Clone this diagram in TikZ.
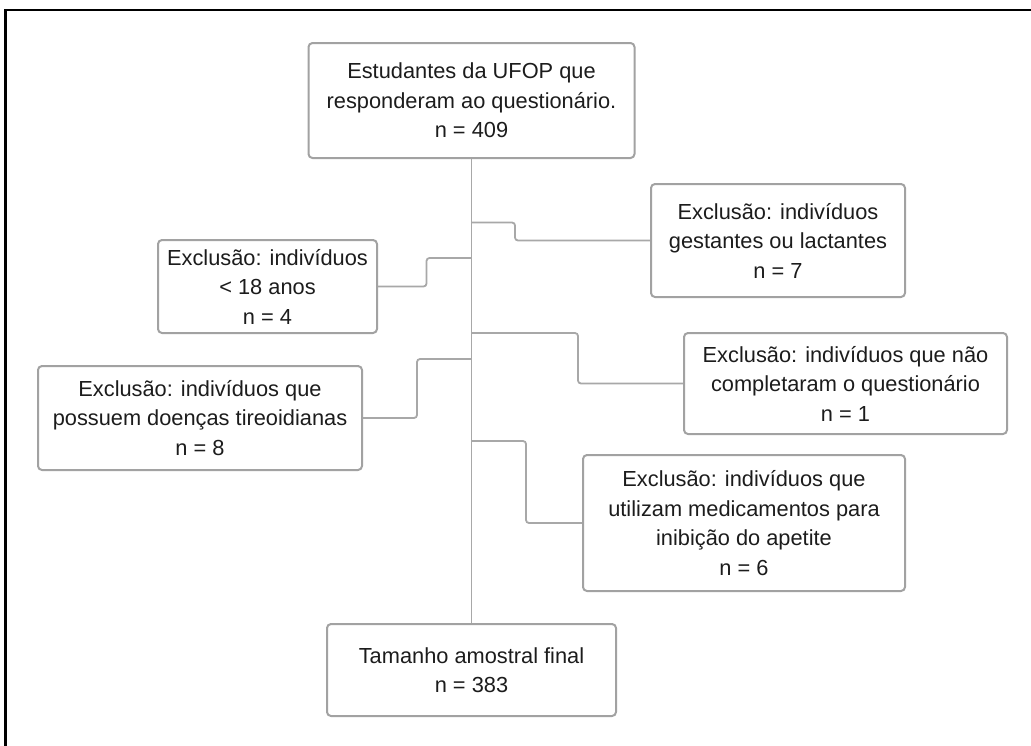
\documentclass[tikz,border=0pt]{standalone}
\usepackage{fontspec}
\setmainfont{Liberation Sans}
\begin{document}
\definecolor{boxgray}{HTML}{A2A2A2}
\definecolor{linegray}{HTML}{A8A8A8}
\definecolor{txt}{HTML}{1C1C1C}
\begin{tikzpicture}[x=1pt,y=-1pt,
  box/.style={draw=boxgray, line width=2pt, rounded corners=4pt, rectangle,
    inner sep=0pt, align=center, text=txt,
    font=\fontsize{21.8}{29.5}\selectfont},
  conn/.style={draw=linegray, line width=1.8pt, rounded corners=3pt},
  frame/.style={draw=black, line width=2.6pt}]
\useasboundingbox (0,0) rectangle (1031,745);
% frame (only top and left visible)
\coordinate (fb) at (5.5,760);
\coordinate (ftl) at (5.5,9.8);
\coordinate (fr) at (1040,9.8);
\draw[frame] (fb) -- (ftl) -- (fr);

\node[box, minimum width=326pt, minimum height=115pt] (top) at (471.5,100.5)
  {Estudantes da UFOP que\\responderam ao questionário.\\n = 409};
\node[box, minimum width=254pt, minimum height=113pt] (g) at (778,240.5)
  {Exclusão: indivíduos\\gestantes ou lactantes\\n = 7};
\node[box, minimum width=219pt, minimum height=93pt] (a) at (267.5,286.5)
  {Exclusão: indivíduos\\< 18 anos\\n = 4};
\node[box, minimum width=323pt, minimum height=101pt] (c) at (845.5,383.5)
  {Exclusão: indivíduos que não\\completaram o questionário\\n = 1};
\node[box, minimum width=324pt, minimum height=104pt] (d) at (200,418)
  {Exclusão: indivíduos que\\possuem doenças tireoidianas\\n = 8};
\node[box, minimum width=322pt, minimum height=136pt] (e) at (744,523)
  {Exclusão: indivíduos que\\utilizam medicamentos para\\inibição do apetite\\n = 6};
\node[box, minimum width=289pt, minimum height=92pt] (b) at (471.5,670)
  {Tamanho amostral final\\n = 383};

\draw[conn] (top.south) -- (b.north);
\coordinate (j1) at (471.5,222.5);
\coordinate (j2) at (471.5,258);
\coordinate (j3) at (471.5,333);
\coordinate (j4) at (471.5,359);
\coordinate (j5) at (471.5,441);
\draw[conn] (j1) -- ++(43.5,0) |- (g.west);
\draw[conn] (j2) -- ++(-45,0) |- (a.east);
\draw[conn] (j3) -- ++(106.5,0) |- (c.west);
\draw[conn] (j4) -- ++(-54.5,0) |- (d.east);
\draw[conn] (j5) -- ++(54.5,0) |- (e.west);
\end{tikzpicture}
\end{document}
